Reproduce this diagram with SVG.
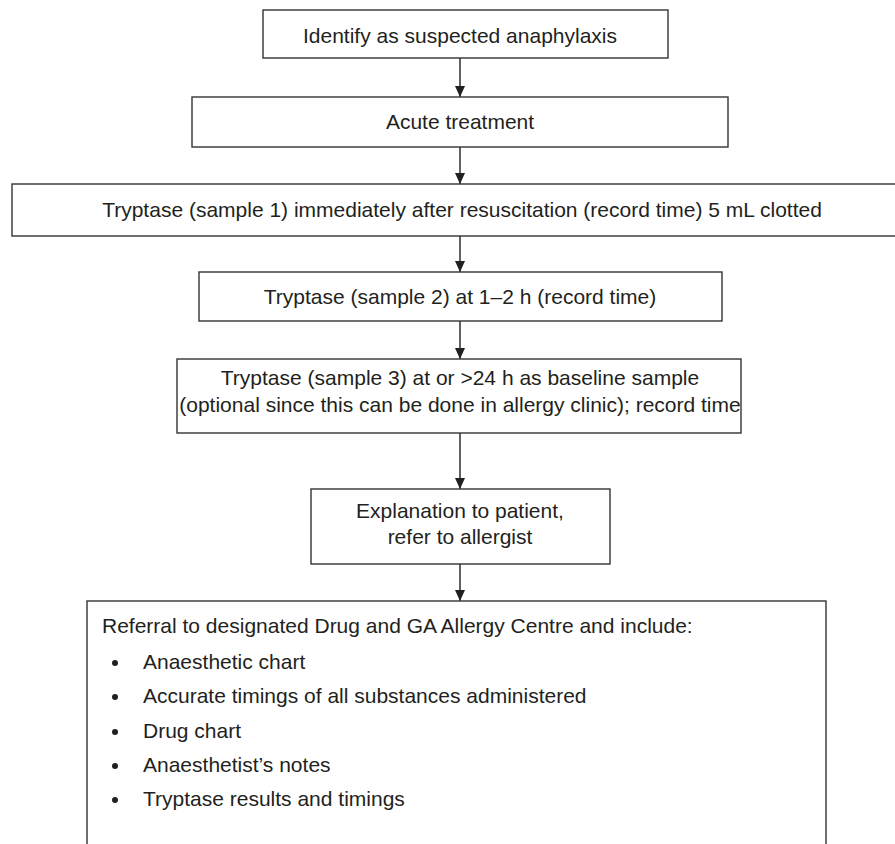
<svg xmlns="http://www.w3.org/2000/svg" width="895" height="844" viewBox="0 0 895 844">
<style>
.box{fill:#fff;stroke:#333;stroke-width:1.4}
.t{font-family:"Liberation Sans",Arial,sans-serif;font-size:21px;fill:#231f20}
.c{text-anchor:middle}
.ln{stroke:#231f20;stroke-width:1.4;fill:none}
</style>
<defs>
<marker id="ah" markerWidth="12" markerHeight="12" refX="11" refY="5" orient="auto" markerUnits="userSpaceOnUse">
<path d="M0,0 L11,5 L0,10 Z" fill="#231f20"/>
</marker>
</defs>
<rect width="895" height="844" fill="#fff"/>
<g id="connectors">
<line class="ln" x1="460" y1="58" x2="460" y2="97" marker-end="url(#ah)"/>
<line class="ln" x1="460" y1="147" x2="460" y2="184" marker-end="url(#ah)"/>
<line class="ln" x1="460" y1="236" x2="460" y2="272" marker-end="url(#ah)"/>
<line class="ln" x1="460" y1="321" x2="460" y2="359" marker-end="url(#ah)"/>
<line class="ln" x1="460" y1="433" x2="460" y2="489" marker-end="url(#ah)"/>
<line class="ln" x1="460" y1="564" x2="460" y2="601" marker-end="url(#ah)"/>
</g>
<g id="n1">
<rect class="box" x="263" y="10" width="405" height="48"/>
<text class="t c" x="460" y="43">Identify as suspected anaphylaxis</text>
</g>
<g id="n2">
<rect class="box" x="192" y="97" width="536" height="50"/>
<text class="t c" x="460" y="129">Acute treatment</text>
</g>
<g id="n3">
<rect class="box" x="12" y="184" width="890" height="52"/>
<text class="t c" x="462" y="217">Tryptase (sample 1) immediately after resuscitation (record time) 5 mL clotted</text>
</g>
<g id="n4">
<rect class="box" x="199" y="272" width="523" height="49"/>
<text class="t c" x="460" y="304">Tryptase (sample 2) at 1–2 h (record time)</text>
</g>
<g id="n5">
<rect class="box" x="177" y="359" width="564" height="74"/>
<text class="t c" x="460" y="385">Tryptase (sample 3) at or &gt;24 h as baseline sample</text>
<text class="t c" x="460" y="412">(optional since this can be done in allergy clinic); record time</text>
</g>
<g id="n6">
<rect class="box" x="311" y="489" width="299" height="75"/>
<text class="t c" x="460" y="518">Explanation to patient,</text>
<text class="t c" x="460" y="544">refer to allergist</text>
</g>
<g id="n7">
<rect class="box" x="87" y="601" width="739" height="260"/>
<text class="t" x="102" y="633">Referral to designated Drug and GA Allergy Centre and include:</text>
<g class="t">
<circle cx="115" cy="663" r="3" fill="#231f20"/>
<text class="t" x="143" y="669">Anaesthetic chart</text>
<circle cx="115" cy="697" r="3" fill="#231f20"/>
<text class="t" x="143" y="703">Accurate timings of all substances administered</text>
<circle cx="115" cy="732" r="3" fill="#231f20"/>
<text class="t" x="143" y="738">Drug chart</text>
<circle cx="115" cy="766" r="3" fill="#231f20"/>
<text class="t" x="143" y="772">Anaesthetist’s notes</text>
<circle cx="115" cy="800" r="3" fill="#231f20"/>
<text class="t" x="143" y="806">Tryptase results and timings</text>
</g>
</g>
</svg>
